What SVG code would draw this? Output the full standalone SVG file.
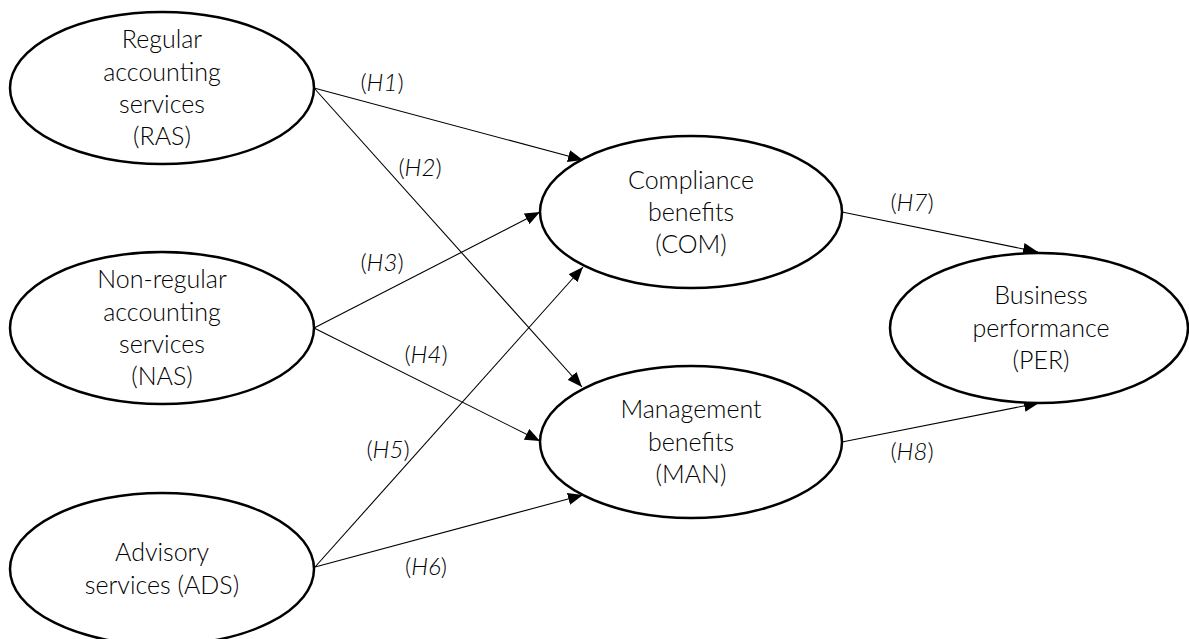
<svg xmlns="http://www.w3.org/2000/svg" width="1189" height="639" viewBox="0 0 1189 639">
<style>
.n{fill:#fff;stroke:#000;stroke-width:2.5}
.t{font-family:Lato,"Open Sans",sans-serif;font-weight:300;font-size:25px;fill:#000;text-anchor:middle}
.l{font-family:Lato,"Open Sans",sans-serif;font-weight:300;font-size:24px;fill:#000;text-anchor:middle}
.l tspan.i{font-style:italic}
.e{stroke:#000;stroke-width:1.1;fill:none;marker-end:url(#a)}
</style>
<defs>
<marker id="a" markerUnits="userSpaceOnUse" markerWidth="16" markerHeight="12" refX="15" refY="6" orient="auto">
<path d="M0,0 L15,6 L0,12 Z" fill="#000"/>
</marker>
</defs>
<g id="connectors">
<line class="e" x1="314" y1="88" x2="583" y2="160"/>
<line class="e" x1="314" y1="88" x2="582" y2="387"/>
<line class="e" x1="314" y1="328" x2="540" y2="212"/>
<line class="e" x1="314" y1="328" x2="540" y2="441"/>
<line class="e" x1="315" y1="567" x2="583" y2="267"/>
<line class="e" x1="315" y1="567" x2="583" y2="495"/>
<line class="e" x1="842" y1="212" x2="1038" y2="252"/>
<line class="e" x1="842" y1="442" x2="1039" y2="403"/>
</g>
<g id="labels">
<text class="l" x="382" y="91">(<tspan class="i">H1</tspan>)</text>
<text class="l" x="420" y="176">(<tspan class="i">H2</tspan>)</text>
<text class="l" x="382" y="271">(<tspan class="i">H3</tspan>)</text>
<text class="l" x="426" y="363">(<tspan class="i">H4</tspan>)</text>
<text class="l" x="388" y="458">(<tspan class="i">H5</tspan>)</text>
<text class="l" x="426" y="575">(<tspan class="i">H6</tspan>)</text>
<text class="l" x="912" y="211">(<tspan class="i">H7</tspan>)</text>
<text class="l" x="912" y="460">(<tspan class="i">H8</tspan>)</text>
</g>
<g id="RAS">
<ellipse class="n" cx="162" cy="88" rx="152" ry="76"/>
<text class="t" x="162" y="48">Regular</text>
<text class="t" x="162" y="81">accounting</text>
<text class="t" x="162" y="113">services</text>
<text class="t" x="162" y="145">(RAS)</text>
</g>
<g id="NAS">
<ellipse class="n" cx="162" cy="328" rx="152" ry="76"/>
<text class="t" x="162" y="288">Non-regular</text>
<text class="t" x="162" y="321">accounting</text>
<text class="t" x="162" y="353">services</text>
<text class="t" x="162" y="385">(NAS)</text>
</g>
<g id="ADS">
<ellipse class="n" cx="162" cy="569" rx="152" ry="76"/>
<text class="t" x="162" y="561">Advisory</text>
<text class="t" x="162" y="594">services (ADS)</text>
</g>
<g id="COM">
<ellipse class="n" cx="691" cy="212" rx="151" ry="76"/>
<text class="t" x="691" y="189">Compliance</text>
<text class="t" x="691" y="221">benefits</text>
<text class="t" x="691" y="253">(COM)</text>
</g>
<g id="MAN">
<ellipse class="n" cx="691" cy="442" rx="151" ry="76"/>
<text class="t" x="691" y="418">Management</text>
<text class="t" x="691" y="451">benefits</text>
<text class="t" x="691" y="483">(MAN)</text>
</g>
<g id="PER">
<ellipse class="n" cx="1039" cy="328" rx="149" ry="75"/>
<text class="t" x="1041" y="304">Business</text>
<text class="t" x="1041" y="337">performance</text>
<text class="t" x="1041" y="369">(PER)</text>
</g>
</svg>
